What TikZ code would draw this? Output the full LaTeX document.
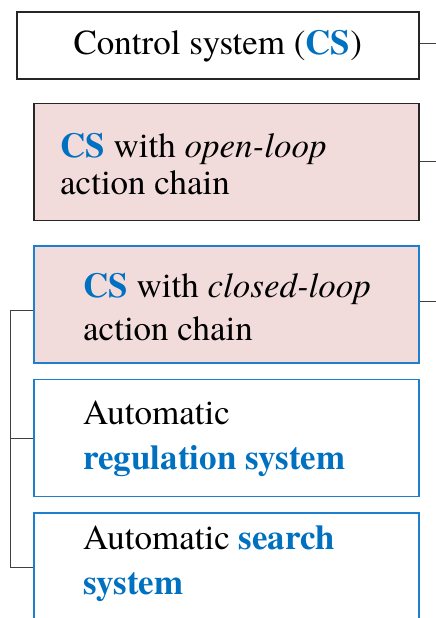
\documentclass[tikz,border=0pt]{standalone}
\usepackage{fontspec}
\newfontfamily\labelfont{texgyretermes}[Extension=.otf, UprightFont=*-regular,
  BoldFont=*-bold, ItalicFont=*-italic, BoldItalicFont=*-bolditalic]
\usetikzlibrary{positioning}

\definecolor{csblue}{HTML}{0070C0}
\definecolor{frameblue}{HTML}{1E7FCF}
\definecolor{chainpink}{HTML}{F2DCDB}

\tikzset{
  box/.style={draw=black!85, line width=1.6pt, minimum width=385pt,
    minimum height=117pt, inner sep=0pt},
  bluebox/.style={box, draw=frameblue},
  label text/.style={align=left, inner sep=0pt, anchor=west,
    font=\labelfont\fontsize{35}{37}\selectfont},
  link/.style={draw=black!75, line width=0.9pt},
}
\newcommand{\cs}[1]{\textcolor{csblue}{\textbf{#1}}}

\begin{document}
\begin{tikzpicture}[x=1pt, y=-1pt]
          \useasboundingbox (0,0) rectangle (436,618);
          \coordinate (edge) at (436,0);
          \coordinate (trunk) at (10,0);

          \node[box, minimum width=402pt, minimum height=67pt, anchor=north west] (b1) at (16,11) {};
          \node[box, fill=chainpink, below=23pt of b1.south east, anchor=north east] (b2) {};
          \node[bluebox, fill=chainpink, below=24pt of b2] (b3) {};
          \node[bluebox, below=15pt of b3] (b4) {};
          \node[bluebox, below=15pt of b4, minimum height=114pt] (b5) {};

          \node[label text, anchor=center] (t1) at ([yshift=-1pt]b1.center) {Control system (\cs{CS})};
          \node[label text] (t2) at ([xshift=27pt, yshift=-2pt]b2.west) {\cs{CS} with \textit{open-loop}\\action chain};
          \node[label text, font=\labelfont\fontsize{35}{43}\selectfont] (t3) at ([xshift=50pt, yshift=-3pt]b3.west) {\cs{CS} with \textit{closed-loop}\\action chain};
          \node[label text, font=\labelfont\fontsize{35}{45}\selectfont] (t4) at ([xshift=50pt, yshift=-1pt]b4.west) {Automatic\\\cs{regulation system}};
          \node[label text, font=\labelfont\fontsize{35}{45}\selectfont] (t5) at ([xshift=50pt, yshift=6pt]b5.west) {Automatic \cs{search}\\\cs{system}};

          % stubs to the right
          \draw[link] ([yshift=2pt]b1.east) -- ([yshift=2pt]b1.east -| edge);
          \draw[link] (b2.east) -- (b2.east -| edge);
          \draw[link] ([yshift=3pt]b3.east) -- ([yshift=3pt]b3.east -| edge);

          % tree on the left
          \draw[link] ([yshift=-6pt]b3.west) -- ([yshift=-6pt]b3.west -| trunk) |- ([yshift=3pt]b5.west);
          \draw[link] (b4.west) -- (b4.west -| trunk);
\end{tikzpicture}
\end{document}
